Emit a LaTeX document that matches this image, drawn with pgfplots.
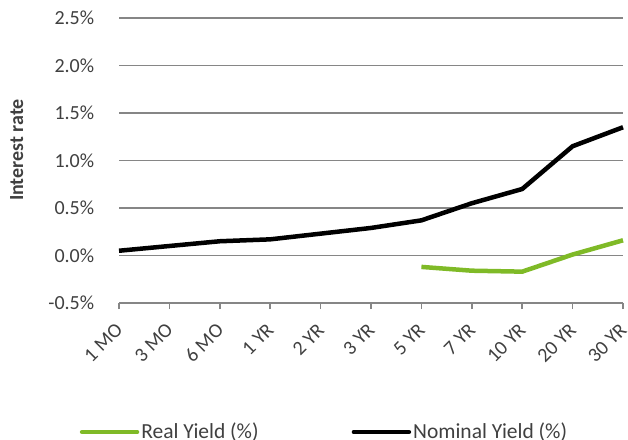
\documentclass[border=0pt]{standalone}
\usepackage{pgfplots}
\pgfplotsset{compat=1.18}
\usepackage{fontspec}
\setmainfont{Carlito}
\definecolor{realgreen}{RGB}{127,186,39}
\definecolor{gridgray}{RGB}{134,134,134}
\definecolor{txtgray}{RGB}{64,64,64}
\begin{document}
\fontsize{20}{24}\selectfont
\begin{tikzpicture}[x=1pt,y=1pt]
\path[use as bounding box] (0,0) rectangle (628,439);
\begin{axis}[
  at={(119pt,136pt)}, anchor=south west,
  scale only axis, width=504pt, height=285pt,
  xmin=0, xmax=10, ymin=-0.5, ymax=2.5,
  axis x line*=bottom, axis y line*=left,
  x axis line style={draw=gridgray, line width=1.8pt, -},
  y axis line style={draw=none},
  xtick={0,...,10},
  xticklabels={1 MO,3 MO,6 MO,1 YR,2 YR,3 YR,5 YR,7 YR,10 YR,20 YR,30 YR},
  xticklabel style={xshift=5pt, yshift=-13pt, rotate=45, anchor=east, text=txtgray},
  xtick style={draw=gridgray, line width=1.5pt},
  tick align=outside, major tick length=6pt,
  ytick={-0.5,0,0.5,1,1.5,2,2.5},
  yticklabels={-0.5\%,0.0\%,0.5\%,1.0\%,1.5\%,2.0\%,2.5\%},
  yticklabel style={text=txtgray, xshift=-12pt},
  ytick style={draw=none},
  ymajorgrids, grid style={draw=gridgray, line width=1.5pt},
  ylabel={\bfseries Interest rate},
  ylabel style={at={(axis description cs:-0.203,0.537)}, anchor=center, text=txtgray},
  legend columns=2,
  legend style={at={(axis description cs:0.4077,-0.4526)}, anchor=center, draw=none, fill=none,
    text=txtgray, font=\fontsize{21.5}{25}\selectfont,
    /tikz/every even column/.append style={column sep=91pt},
    nodes={inner sep=2pt}},
  legend image code/.code={\draw[#1, line cap=round] (0pt,0pt) -- (55pt,0pt);},
  clip=false,
]
\addplot[realgreen, line width=4.5pt, line join=round] coordinates {
  (6,-0.12) (7,-0.16) (8,-0.17) (9,0.01) (10,0.16)};
\addlegendentry{Real Yield (\%)}
\addplot[black, line width=4.5pt, line join=round] coordinates {
  (0,0.05) (1,0.10) (2,0.15) (3,0.17) (4,0.23) (5,0.29) (6,0.37) (7,0.55) (8,0.70) (9,1.15) (10,1.35)};
\addlegendentry{Nominal Yield (\%)}
\end{axis}
\end{tikzpicture}
\end{document}
